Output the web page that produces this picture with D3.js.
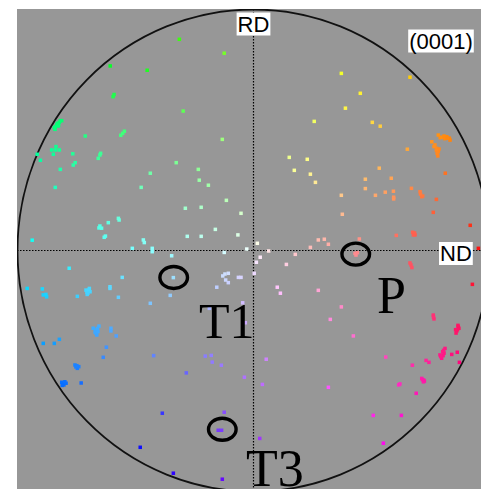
<!DOCTYPE html>
<html>
<head>
<meta charset="utf-8">
<script src="https://cdn.jsdelivr.net/npm/d3@7"></script>
<style>
  html, body { margin: 0; padding: 0; background: #ffffff; }
  svg { display: block; }
</style>
</head>
<body>
<svg id="pf" width="481" height="489"></svg>
<script>
// (0001) pole figure: pole positions in projection units (unit circle = equator)
const polesUpperLeft = [
  [-0.309,0.880],[-0.122,0.822],[-0.597,0.769],[-0.443,0.751],[-0.585,0.641],[-0.581,0.650],[-0.293,0.581],
  [-0.830,0.512],[-0.820,0.523],[-0.809,0.534],[-0.799,0.541],[-0.827,0.505],[-0.815,0.519],
  [-0.812,0.521],[-0.826,0.515],[-0.817,0.530],[-0.805,0.541],
  [-0.701,0.477],[-0.553,0.480],[-0.545,0.488],[-0.538,0.497],[-0.130,0.463],
  [-0.841,0.419],[-0.823,0.433],[-0.809,0.419],[-0.834,0.401],[-0.825,0.419],
  [-0.901,0.401],[-0.753,0.403],[-0.647,0.384],[-0.640,0.398],[-0.637,0.405],
  [-0.751,0.356],[-0.743,0.366],[-0.888,0.376],[-0.322,0.366],[-0.805,0.338],[-0.430,0.322],
  [-0.230,0.338],[-0.226,0.293],[-0.188,0.272],[-0.826,0.263],[-0.468,0.263],[-0.113,0.209],
  [-0.284,0.176],[-0.218,0.180],[-0.563,0.134],[-0.560,0.127],[-0.605,0.116],
  [-0.640,0.102],[-0.633,0.093],[-0.644,0.094],[-0.622,0.055],[-0.617,0.060],
  [-0.159,0.088],[-0.276,0.059],[-0.218,0.059],[-0.065,0.065],[-0.922,0.043],
  [-0.459,0.044],[-0.455,0.033],[-0.505,0.009],[-0.422,0.009],[-0.052,0.155],[-0.028,0.006]
];
const polesLowerLeft = [
  [-0.422,-0.005],[-0.341,-0.022],[-0.122,-0.008],[-0.768,-0.074],[-0.547,-0.112],[-0.334,-0.113],
  [-0.128,-0.106],[-0.119,-0.098],[-0.105,-0.095],[-0.116,-0.123],[-0.105,-0.134],[-0.063,-0.112],[-0.052,-0.112],[-0.153,-0.153],
  [-0.943,-0.158],[-0.880,-0.160],[-0.876,-0.185],[-0.862,-0.193],[-0.865,-0.183],
  [-0.698,-0.165],[-0.684,-0.158],[-0.693,-0.183],[-0.681,-0.172],[-0.694,-0.173],[-0.688,-0.165],[-0.690,-0.178],
  [-0.734,-0.191],[-0.598,-0.151],[-0.598,-0.158],[-0.563,-0.195],[-0.347,-0.187],[-0.430,-0.220],[-0.184,-0.241],
  [-0.668,-0.324],[-0.656,-0.345],[-0.644,-0.315],[-0.653,-0.352],[-0.658,-0.331],
  [-0.650,-0.325],[-0.660,-0.340],[-0.648,-0.338],
  [-0.594,-0.324],[-0.594,-0.335],[-0.572,-0.356],[-0.876,-0.387],[-0.830,-0.387],[-0.809,-0.370],
  [-0.613,-0.403],[-0.626,-0.445],[-0.416,-0.438],
  [-0.201,-0.440],[-0.176,-0.437],[-0.172,-0.465],[-0.134,-0.478],
  [-0.744,-0.477],[-0.734,-0.491],[-0.728,-0.484],[-0.740,-0.485],[-0.736,-0.480],[-0.280,-0.510],
  [-0.799,-0.549],[-0.790,-0.560],[-0.781,-0.553],[-0.794,-0.556],[-0.786,-0.547],[-0.797,-0.562],[-0.718,-0.552],
  [-0.380,-0.678],[-0.122,-0.674],[-0.147,-0.749],[-0.133,-0.749],[-0.472,-0.820],[-0.334,-0.928],[-0.130,-0.953],
  [-0.045,-0.218],[-0.034,-0.301],[-0.038,-0.528]
];
const polesUpperRight = [
  [0.366,0.738],[0.652,0.722],[0.445,0.655],[0.383,0.593],[0.253,0.538],[0.495,0.534],[0.528,0.518],
  [0.770,0.481],[0.784,0.472],[0.805,0.474],[0.819,0.460],[0.816,0.468],[0.743,0.453],[0.756,0.440],
  [0.763,0.426],[0.770,0.412],[0.768,0.394],[0.752,0.433],[0.794,0.477],[0.773,0.423],
  [0.797,0.466],[0.808,0.468],[0.762,0.418],[0.765,0.405],[0.778,0.470],
  [0.641,0.422],[0.149,0.388],[0.224,0.380],[0.170,0.334],[0.237,0.318],[0.258,0.284],[0.799,0.322],
  [0.524,0.343],[0.466,0.297],[0.574,0.301],[0.466,0.258],[0.508,0.230],[0.549,0.243],[0.583,0.247],
  [0.584,0.222],[0.584,0.215],
  [0.658,0.259],[0.694,0.245],[0.701,0.224],[0.705,0.227],[0.696,0.235],[0.762,0.213],
  [0.366,0.230],[0.370,0.151],[0.749,0.159],[0.903,0.105],
  [0.663,0.076],[0.673,0.065],[0.666,0.065],[0.671,0.073],[0.595,0.063],
  [0.270,0.044],[0.295,0.047],[0.312,0.026],[0.441,0.048],[0.016,0.030],[0.237,0.013],[0.937,0.009]
];
const polesLowerRight = [
  [0.423,-0.012],[0.433,-0.009],[0.427,-0.019],[0.063,-0.002],[0.028,-0.028],[0.012,-0.049],[0.003,-0.095],
  [0.174,-0.016],[0.137,-0.058],[0.656,-0.060],[0.652,-0.052],[0.660,-0.071],[0.912,-0.141],
  [0.099,-0.153],[0.112,-0.178],[0.270,-0.166],[0.366,-0.235],[0.320,-0.287],
  [0.749,-0.269],[0.752,-0.285],[0.750,-0.277],
  [0.853,-0.318],[0.847,-0.335],[0.844,-0.344],[0.856,-0.324],[0.850,-0.329],[0.852,-0.312],[0.842,-0.330],
  [0.416,-0.356],[0.053,-0.453],[0.037,-0.558],[0.312,-0.570],[0.551,-0.444],
  [0.777,-0.435],[0.788,-0.422],[0.798,-0.408],[0.784,-0.449],[0.794,-0.428],
  [0.790,-0.438],[0.780,-0.442],[0.792,-0.416],
  [0.826,-0.433],[0.849,-0.424],[0.858,-0.466],[0.719,-0.458],[0.731,-0.466],[0.662,-0.478],
  [0.701,-0.533],[0.712,-0.544],[0.708,-0.547],[0.704,-0.538],[0.709,-0.540],
  [0.605,-0.560],[0.610,-0.556],[0.678,-0.595],
  [0.499,-0.687],[0.616,-0.687],[0.541,-0.803],[0.026,-0.783]
];

// highlighted variants: label text, ellipse centre (projection units)
const variantNames = ["T1", "P", "T3"];
const variantRings = [[-0.3325,-0.1125],[0.426,-0.015],[-0.130,-0.745]];
const axisNames = ["RD", "ND"];
const planeLabel = "(0001)";

// ---- layout ----
const cx = 253.5, cy = 250.5, R = 240;
const rimRx = 236, rimRy = 241;
const frame = {x0: 17, y0: 9, x1: 481, y1: 489};

const svg = d3.select("#pf");
const x = d3.scaleLinear().domain([-1, 1]).range([cx - R, cx + R]);
const y = d3.scaleLinear().domain([-1, 1]).range([cy + R, cy - R]);

// colour: hue follows azimuth from ND, saturation grows towards the rim
const satScale = d3.scaleLinear().domain([0, 1]).range([0.05, 1]).clamp(true);
function poleColor(p) {
  const hue = (Math.atan2(p[1], p[0]) * 180 / Math.PI + 360) % 360;
  const s = satScale(Math.hypot(p[0], p[1]));
  return d3.hsl(hue, 1, 1 - s / 2).formatHex();
}

svg.append("rect")
  .attr("x", frame.x0).attr("y", frame.y0)
  .attr("width", frame.x1 - frame.x0).attr("height", frame.y1 - frame.y0)
  .attr("fill", "#979797");

const clip = svg.append("clipPath").attr("id", "frameClip");
clip.append("rect").attr("x", frame.x0).attr("y", frame.y0)
  .attr("width", frame.x1 - frame.x0).attr("height", frame.y1 - frame.y0);

const g = svg.append("g").attr("clip-path", "url(#frameClip)");

// crosshair through the centre
g.append("line")
  .attr("x1", frame.x0).attr("x2", frame.x1)
  .attr("y1", y(0)).attr("y2", y(0))
  .attr("stroke", "#000").attr("stroke-width", 1.2)
  .attr("stroke-dasharray", "1.5,1.5");
g.append("line")
  .attr("x1", x(0)).attr("x2", x(0))
  .attr("y1", frame.y0).attr("y2", frame.y1)
  .attr("stroke", "#000").attr("stroke-width", 1.2)
  .attr("stroke-dasharray", "1.5,1.5");

// primitive circle
g.append("ellipse")
  .attr("cx", x(0)).attr("cy", y(0))
  .attr("rx", rimRx).attr("ry", rimRy)
  .attr("fill", "none").attr("stroke", "#111").attr("stroke-width", 1.8);

// poles
const poles = [].concat(polesUpperLeft, polesLowerLeft, polesUpperRight, polesLowerRight);
const size = 3.5;
g.append("g").selectAll("rect").data(poles).join("rect")
  .attr("x", d => x(d[0]) - size / 2)
  .attr("y", d => y(d[1]) - size / 2)
  .attr("width", size).attr("height", size)
  .attr("fill", poleColor);

// rings round the selected variants
g.append("g").selectAll("ellipse").data(variantRings).join("ellipse")
  .attr("cx", d => x(d[0])).attr("cy", d => y(d[1]))
  .attr("rx", 13.8).attr("ry", 11)
  .attr("fill", "none").attr("stroke", "#000").attr("stroke-width", 3.4);

// boxed labels
function boxedLabel(text, px, py, anchor) {
  const grp = g.append("g");
  const t = grp.append("text")
    .attr("x", px).attr("y", py)
    .attr("text-anchor", anchor)
    .attr("font-family", "'Liberation Sans', Arial, sans-serif")
    .attr("font-size", 22)
    .attr("fill", "#000")
    .text(text);
  const b = t.node().getBBox();
  grp.insert("rect", "text")
    .attr("x", b.x - 1).attr("y", b.y + 1)
    .attr("width", b.width + 2).attr("height", b.height - 2)
    .attr("fill", "#fff");
}
boxedLabel(axisNames[0], x(0), 31.5, "middle");
boxedLabel(axisNames[1], 440, 261, "start");
boxedLabel(planeLabel, 441, 48.5, "middle");

// variant names
const namePos = [[199, 338], [377, 313], [246, 486]];
const nameSize = [50, 52, 52];
g.append("g").selectAll("text").data(variantNames).join("text")
  .attr("x", (d, i) => namePos[i][0]).attr("y", (d, i) => namePos[i][1])
  .attr("font-family", "'Liberation Serif', 'Times New Roman', serif")
  .attr("font-size", (d, i) => nameSize[i])
  .attr("fill", "#000")
  .text(d => d);
</script>
</body>
</html>
